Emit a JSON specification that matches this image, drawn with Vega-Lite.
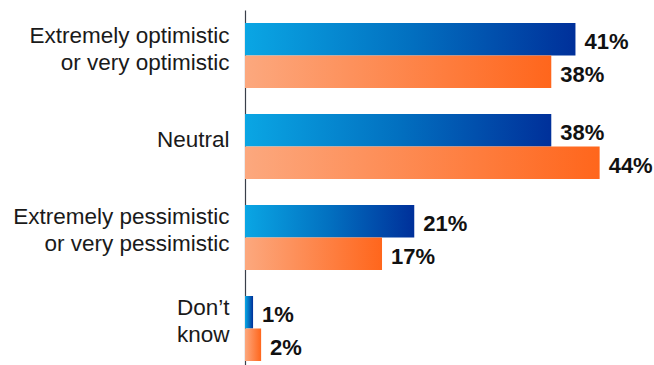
{
  "$schema": "https://vega.github.io/schema/vega-lite/v6.json",
  "width": 403,
  "height": 364,
  "autosize": {"type": "none"},
  "padding": {"left": 245, "top": 10, "right": 6, "bottom": 0},
  "background": "white",
  "config": {"view": {"stroke": null}},
  "data": {
    "values": [
      {"cat": "Extremely optimistic|or very optimistic", "series": "blue", "value": 41, "label": "41%"},
      {"cat": "Extremely optimistic|or very optimistic", "series": "orange", "value": 38, "label": "38%"},
      {"cat": "Neutral", "series": "blue", "value": 38, "label": "38%"},
      {"cat": "Neutral", "series": "orange", "value": 44, "label": "44%"},
      {"cat": "Extremely pessimistic|or very pessimistic", "series": "blue", "value": 21, "label": "21%"},
      {"cat": "Extremely pessimistic|or very pessimistic", "series": "orange", "value": 17, "label": "17%"},
      {"cat": "Don’t|know", "series": "blue", "value": 1, "label": "1%"},
      {"cat": "Don’t|know", "series": "orange", "value": 2, "label": "2%"}
    ]
  },
  "encoding": {
    "y": {
      "field": "cat",
      "type": "nominal",
      "sort": ["Extremely optimistic|or very optimistic", "Neutral", "Extremely pessimistic|or very pessimistic", "Don’t|know"],
      "scale": {"paddingInner": 0.2857, "paddingOuter": 0.143},
      "title": null,
      "axis": {
        "domain": true,
        "domainColor": "#3a3f4a",
        "domainWidth": 1.2,
        "ticks": false,
        "grid": false,
        "labelExpr": "split(datum.label, '|')",
        "labelFont": "Liberation Sans",
        "labelFontSize": 22.5,
        "labelColor": "#1a1a1a",
        "labelPadding": 16,
        "labelLineHeight": 27,
        "labelOffset": {"condition": {"test": "indexof(datum.value, '|') < 0", "value": -7}, "value": -20},
        "labelLimit": 0
      }
    },
    "yOffset": {"field": "series", "type": "nominal", "sort": ["blue", "orange"]},
    "x": {"field": "value", "type": "quantitative", "scale": {"domain": [0, 50]}, "axis": null}
  },
  "layer": [
    {
      "transform": [{"filter": "datum.series == 'blue'"}],
      "mark": {
        "type": "bar",
        "color": {
          "gradient": "linear", "x1": 0, "x2": 1, "y1": 0, "y2": 0,
          "stops": [{"offset": 0, "color": "#0aa6e4"}, {"offset": 0.5, "color": "#0270c0"}, {"offset": 1, "color": "#00309a"}]
        }
      }
    },
    {
      "transform": [{"filter": "datum.series == 'orange'"}],
      "mark": {
        "type": "bar",
        "color": {
          "gradient": "linear", "x1": 0, "x2": 1, "y1": 0, "y2": 0,
          "stops": [{"offset": 0, "color": "#fca87e"}, {"offset": 1, "color": "#ff661c"}]
        }
      }
    },
    {
      "mark": {"type": "text", "align": "left", "baseline": "middle", "dx": 9, "dy": 3, "font": "Liberation Sans", "fontSize": 22, "fontWeight": "bold", "color": "#111111"},
      "encoding": {"text": {"field": "label"}}
    }
  ]
}
